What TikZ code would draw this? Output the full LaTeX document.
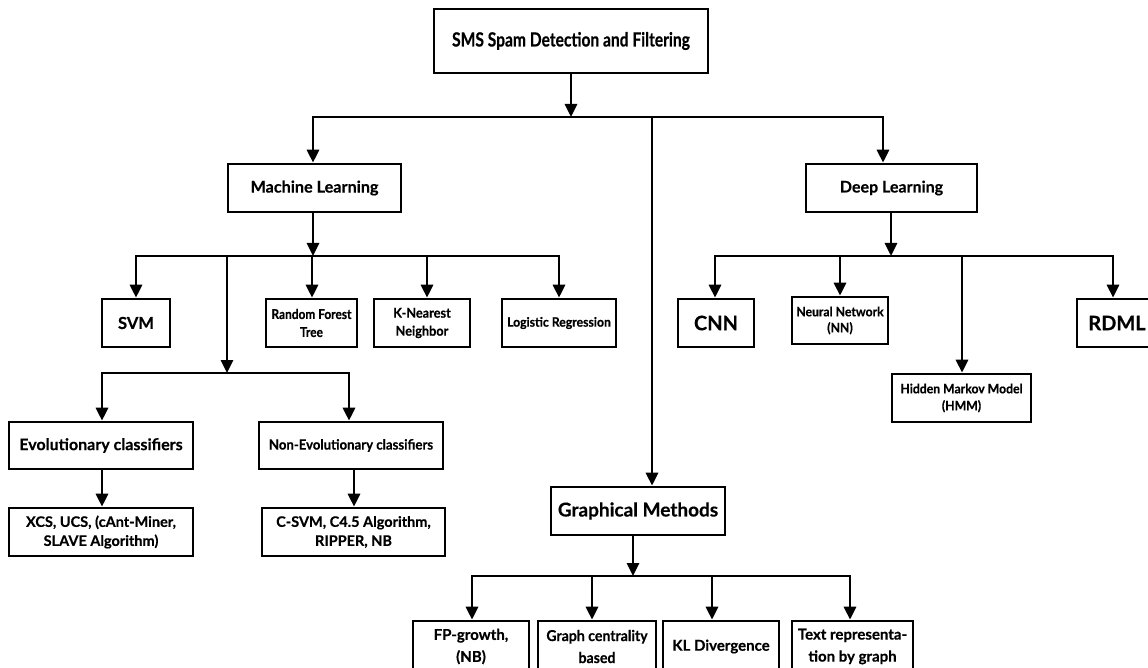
\documentclass[tikz,border=0pt]{standalone}
\usepackage{fontspec}
\setmainfont{Lato}[FakeBold=0.4]
\newfontfamily\lsB{Lato}[FakeStretch=0.94, FakeBold=0.4]
\newfontfamily\lsC{Lato}[FakeStretch=0.88, FakeBold=0.4]
\newfontfamily\lsD{Lato}[FakeStretch=0.8, FakeBold=0.4]
\usetikzlibrary{arrows.meta}

\newcommand{\fz}[2]{\bfseries\fontsize{#1}{#2}\selectfont}

\tikzset{
  box/.style={draw, line width=2.6pt, fill=white, inner sep=0pt, align=center},
  conn/.style={line width=2.9pt, line cap=rect},
  arr/.style={line width=2.9pt, -{Triangle[width=12pt,length=13pt]}},
}

\begin{document}
\begin{tikzpicture}[x=1pt,y=-1pt]
  \fill[white] (0,0) rectangle (1148,668);
  \useasboundingbox (0,0) rectangle (1148,668);
  \clip (0,0) rectangle (1148,668);

  % ---- boxes ----
  \node[box, minimum width=274pt, minimum height=64pt, font=\lsD\fz{19.5}{23}] (top) at (571,41) {SMS Spam Detection and Filtering};

  \node[box, minimum width=173pt, minimum height=48pt, font=\fz{16.2}{20}] (ml) at (314.5,188) {Machine Learning};
  \node[box, minimum width=171pt, minimum height=48pt, font=\fz{16}{20}] (dl) at (891.5,188) {Deep Learning};
  \node[box, minimum width=174pt, minimum height=48pt, font=\fz{19}{23}] (gm) at (638,511) {Graphical Methods};

  \node[box, minimum width=68pt, minimum height=48pt, font=\fz{16.5}{20}] (svm) at (136,323) {SVM};
  \node[box, minimum width=91pt, minimum height=48pt, font=\lsC\fz{13.5}{18}] (rf) at (311.5,323) {Random Forest\\Tree};
  \node[box, minimum width=96pt, minimum height=48pt, font=\lsB\fz{13.5}{18}] (knn) at (422,323) {K-Nearest\\Neighbor};
  \node[box, minimum width=114pt, minimum height=48pt, font=\lsB\fz{13}{16}] (lr) at (559,323) {Logistic Regression};

  \node[box, minimum width=76pt, minimum height=48pt, font=\fz{20}{24}] (cnn) at (716,323) {CNN};
  \node[box, minimum width=96pt, minimum height=47pt, font=\lsB\fz{13}{16}] (nn) at (840,320.5) {Neural Network\\(NN)};
  \node[box, minimum width=139pt, minimum height=48pt, font=\lsB\fz{13}{17}] (hmm) at (961.5,398) {Hidden Markov Model\\(HMM)};
  \node[box, minimum width=80pt, minimum height=48pt, font=\fz{20}{24}] (rdml) at (1117,323) {RDML};

  \node[box, minimum width=184pt, minimum height=47pt, font=\fz{16}{20}] (evo) at (101,445.5) {Evolutionary classifiers};
  \node[box, minimum width=184pt, minimum height=47pt, font=\lsB\fz{14}{18}] (nevo) at (351,445.5) {Non-Evolutionary classifiers};
  \node[box, minimum width=184pt, minimum height=48pt, font=\fz{14.5}{19}] (xcs) at (101,532) {XCS, UCS, (cAnt-Miner,\\SLAVE Algorithm)};
  \node[box, minimum width=183pt, minimum height=48pt, font=\fz{14.5}{19}] (csvm) at (353.5,532) {C-SVM, C4.5 Algorithm,\\RIPPER, NB};

  \node[box, minimum width=116pt, minimum height=51pt, font=\fz{15}{22}] (fp) at (471,646.5) {FP-growth,\\(NB)};
  \node[box, minimum width=118pt, minimum height=51pt, font=\lsB\fz{15}{22}] (gc) at (597,646.5) {Graph centrality\\based};
  \node[box, minimum width=116pt, minimum height=51pt, font=\fz{15}{22}] (kl) at (721,646.5) {KL Divergence};
  \node[box, minimum width=121pt, minimum height=51pt, font=\fz{15}{22}] (tr) at (852.5,646.5) {Text representa-\\tion by graph};

  % ---- bus points ----
  \coordinate (b0) at (571,117);
  \coordinate (b0l) at (313,117);
  \coordinate (b0r) at (883,117);
  \coordinate (b0g) at (652,117);

  \coordinate (b1) at (313,256);
  \coordinate (b1l) at (136,256);
  \coordinate (b1r) at (559,256);
  \coordinate (b1s) at (227,256);
  \coordinate (b1f) at (312,256);
  \coordinate (b1k) at (427,256);

  \coordinate (b2) at (227,373);
  \coordinate (b2l) at (102,373);
  \coordinate (b2r) at (349,373);

  \coordinate (b3) at (891,256);
  \coordinate (b3l) at (715,256);
  \coordinate (b3r) at (1113,256);
  \coordinate (b3n) at (840,256);
  \coordinate (b3h) at (962,256);

  \coordinate (b4) at (633,576);
  \coordinate (b4l) at (472,576);
  \coordinate (b4r) at (850,576);
  \coordinate (b4g) at (592,576);
  \coordinate (b4k) at (712,576);

  \coordinate (cs) at (354,0);

  % ---- top level ----
  \draw[arr] (top.south) -- (b0);
  \draw[conn] (b0l) -- (b0r);
  \draw[arr] (b0l) -- (b0l |- ml.north);
  \draw[arr] (b0r) -- (b0r |- dl.north);
  \draw[arr] (b0g) -- (b0g |- gm.north);

  % ---- machine learning ----
  \draw[arr] (b1 |- ml.south) -- (b1);
  \draw[conn] (b1l) -- (b1r);
  \draw[arr] (b1l) -- (b1l |- svm.north);
  \draw[arr] (b1f) -- (b1f |- rf.north);
  \draw[arr] (b1k) -- (b1k |- knn.north);
  \draw[arr] (b1r) -- (b1r |- lr.north);
  \draw[arr] (b1s) -- (b2);
  \draw[conn] (b2l) -- (b2r);
  \draw[arr] (b2l) -- (b2l |- evo.north);
  \draw[arr] (b2r) -- (b2r |- nevo.north);
  \draw[arr] (b2l |- evo.south) -- (b2l |- xcs.north);
  \draw[arr] (cs |- nevo.south) -- (cs |- csvm.north);

  % ---- deep learning ----
  \draw[arr] (b3 |- dl.south) -- (b3);
  \draw[conn] (b3l) -- (b3r);
  \draw[arr] (b3l) -- (b3l |- cnn.north);
  \draw[arr] (b3n) -- (b3n |- nn.north);
  \draw[arr] (b3h) -- (b3h |- hmm.north);
  \draw[arr] (b3r) -- (b3r |- rdml.north);

  % ---- graphical methods ----
  \draw[arr] (b4 |- gm.south) -- (b4);
  \draw[conn] (b4l) -- (b4r);
  \draw[arr] (b4l) -- (b4l |- fp.north);
  \draw[arr] (b4g) -- (b4g |- gc.north);
  \draw[arr] (b4k) -- (b4k |- kl.north);
  \draw[arr] (b4r) -- (b4r |- tr.north);
\end{tikzpicture}
\end{document}
